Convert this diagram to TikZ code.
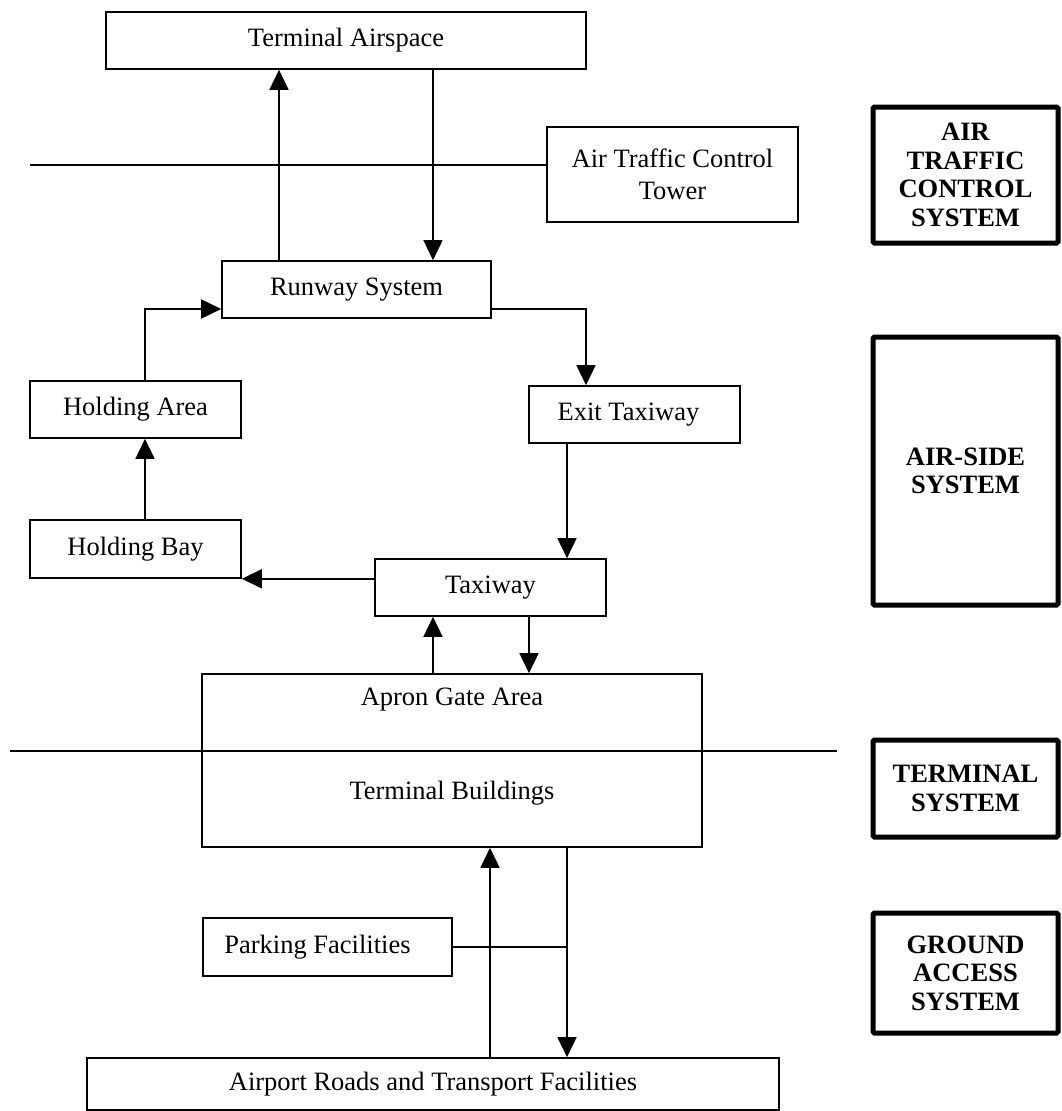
\documentclass[tikz,border=0pt]{standalone}
\usepackage{fontspec}
\setmainfont{Liberation Serif}
\usetikzlibrary{arrows.meta}
\begin{document}
\begin{tikzpicture}[x=1pt,y=-1pt,
  box/.style={draw,line width=1.6pt,rectangle,inner sep=0pt,align=center,
    font=\fontsize{26.5}{32}\selectfont},
  sysbox/.style={draw,line width=5pt,rectangle,rounded corners=1.5pt,inner sep=0pt,align=center,
    font=\fontsize{26.5}{28.5}\selectfont\bfseries},
  txt/.style={inner sep=0pt,font=\fontsize{26.5}{32}\selectfont},
  conn/.style={line width=1.6pt},
  arr/.style={line width=1.6pt,-{Triangle[length=20pt,width=19pt]}}]
\useasboundingbox (0,0) rectangle (1061,1111);
\fill[white] (0,0) rectangle (1061,1111);

% main boxes
\node[box,minimum width=480pt,minimum height=57pt] (ta) at (346,40.5) {Terminal Airspace};
\node[box,minimum width=251pt,minimum height=95pt] (atc) at (672.5,174.5) {Air Traffic Control\\Tower};
\node[box,minimum width=269pt,minimum height=57pt] (rw) at (356.5,289.5) {Runway System};
\node[box,minimum width=211pt,minimum height=57pt] (ha) at (135.5,409.5) {Holding Area};
\node[box,minimum width=211pt,minimum height=57pt] (et) at (634.5,414.5) {Exit Taxiway\hspace*{12pt}};
\node[box,minimum width=211pt,minimum height=58pt] (hb) at (135.5,549) {Holding Bay};
\node[box,minimum width=231pt,minimum height=57pt] (tw) at (490.5,587.5) {Taxiway};
\node[box,minimum width=500pt,minimum height=173pt] (ap) at (452,760.5) {};
\node[txt] (apt) at (452,700) {Apron Gate Area};
\node[txt] (tbt) at (452,793) {Terminal Buildings};
\node[box,minimum width=249pt,minimum height=58pt] (pf) at (327.5,947) {Parking Facilities\hspace*{20pt}};
\node[box,minimum width=692pt,minimum height=52pt] (ar) at (433,1084) {Airport Roads and Transport Facilities};

% system boxes
\node[sysbox,minimum width=185pt,minimum height=136pt] (s1) at (965.5,175) {AIR\\TRAFFIC\\CONTROL\\SYSTEM};
\node[sysbox,minimum width=185pt,minimum height=268pt] (s2) at (965.5,471) {AIR-SIDE\\SYSTEM};
\node[sysbox,minimum width=185pt,minimum height=97pt] (s3) at (965.5,788.5) {TERMINAL\\SYSTEM};
\node[sysbox,minimum width=185pt,minimum height=120pt] (s4) at (965.5,973) {GROUND\\ACCESS\\SYSTEM};

% helper coordinates
\coordinate (l1) at (30,165);
\coordinate (l2a) at (10,751);
\coordinate (l2b) at (837,751);
\coordinate (x145) at (145,0);
\coordinate (x279) at (279,0);
\coordinate (x433) at (433,0);
\coordinate (x529) at (529,0);
\coordinate (x567) at (567,0);
\coordinate (x586) at (586,0);
\coordinate (x490) at (490,0);
\coordinate (y309) at (0,309);

% connectors
\draw[conn] (l1) -- (l1 -| atc.west);
\draw[conn] (l2a) -- (l2b);
\draw[arr] (rw.north -| x279) -- (ta.south -| x279);
\draw[arr] (ta.south -| x433) -- (rw.north -| x433);
\draw[arr] (ha.north -| x145) |- (rw.west |- y309);
\draw[arr] (rw.east |- y309) -| (et.north -| x586);
\draw[arr] (hb.north -| x145) -- (ha.south -| x145);
\draw[arr] (et.south -| x567) -- (tw.north -| x567);
\draw[arr] (tw.west |- hb.south east) -- (hb.south east);
\draw[arr] (ap.north -| x433) -- (tw.south -| x433);
\draw[arr] (tw.south -| x529) -- (ap.north -| x529);
\draw[arr] (ar.north -| x490) -- (ap.south -| x490);
\draw[arr] (ap.south -| x567) -- (ar.north -| x567);
\draw[conn] (pf.east) -- (pf.east -| x567);
\end{tikzpicture}
\end{document}
